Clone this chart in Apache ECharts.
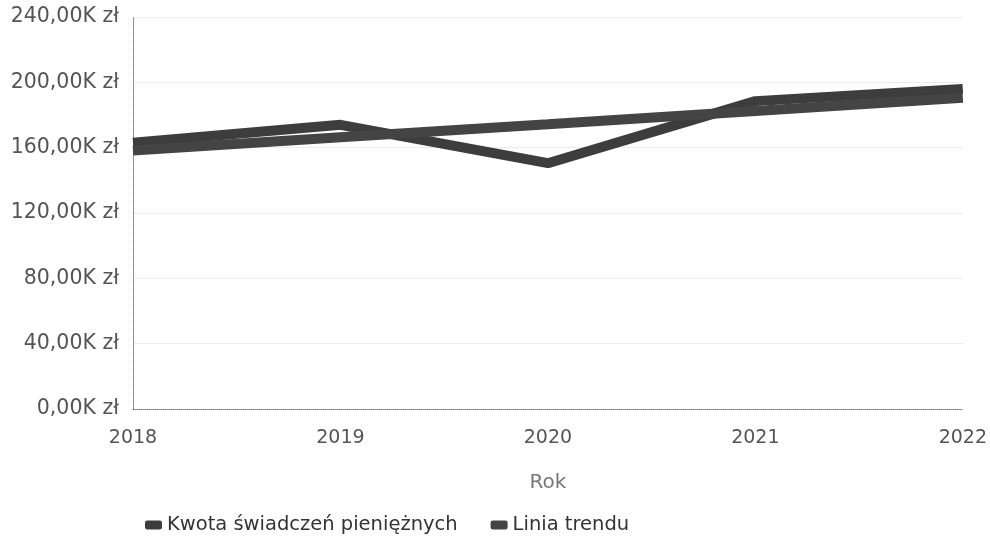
<!DOCTYPE html>
<html><head><meta charset="utf-8">
<script src="https://cdn.jsdelivr.net/npm/echarts@6/dist/echarts.min.js"></script>
<style>html,body{margin:0;padding:0;background:#fff}#c{width:990px;height:544px}</style>
</head><body><div id="c"></div>
<script>
const years = ['2018','2019','2020','2021','2022'];
const kwota = [163000, 174000, 150500, 188500, 196000];
const trend = [158300, 166400, 174400, 182500, 190500];
const yTicks = [0, 40000, 80000, 120000, 160000, 200000, 240000];
const names = ['Kwota świadczeń pieniężnych', 'Linia trendu'];

const chart = echarts.init(document.getElementById('c'));
const fmt = v => (v/1000).toFixed(2).replace('.', ',') + 'K zł';
const FF = 'DejaVu Sans';
chart.setOption({
  animation: false,
  textStyle: {fontFamily: FF},
  grid: {left: 133, right: 27, top: 17, bottom: 135},
  legend: {
    left: 140, top: 510, itemWidth: 17, itemHeight: 9, itemGap: 33,
    icon: 'roundRect',
    textStyle: {fontSize: 19.5, color: '#333', fontFamily: FF},
    data: names
  },
  xAxis: {
    type: 'category', data: years, boundaryGap: false,
    name: 'Rok', nameLocation: 'middle', nameGap: 64,
    nameTextStyle: {fontSize: 20, color: '#777', fontFamily: FF},
    axisLine: {lineStyle: {color: '#777', type: 'dotted', width: 1}},
    axisTick: {show: false},
    axisLabel: {fontSize: 19, color: '#555', margin: 20, interval: 0, fontFamily: FF}
  },
  yAxis: {
    type: 'value', min: 0, max: 240000, interval: 40000,
    axisLine: {show: true, lineStyle: {color: '#777', type: 'dotted', width: 1}},
    axisTick: {show: false},
    splitLine: {lineStyle: {color: '#ececec', width: 1}},
    axisLabel: {fontSize: 20.5, color: '#555', margin: 14, fontFamily: FF, formatter: v => yTicks.includes(v) ? fmt(v) : ''}
  },
  series: [
    {name: names[0], type: 'line', data: kwota, symbol: 'none',
     lineStyle: {width: 10, color: '#3d3d3d'}, itemStyle: {color: '#3d3d3d'}},
    {name: names[1], type: 'line', data: trend, symbol: 'none',
     lineStyle: {width: 10, color: '#444444'}, itemStyle: {color: '#444444'}}
  ]
});
</script></body></html>
